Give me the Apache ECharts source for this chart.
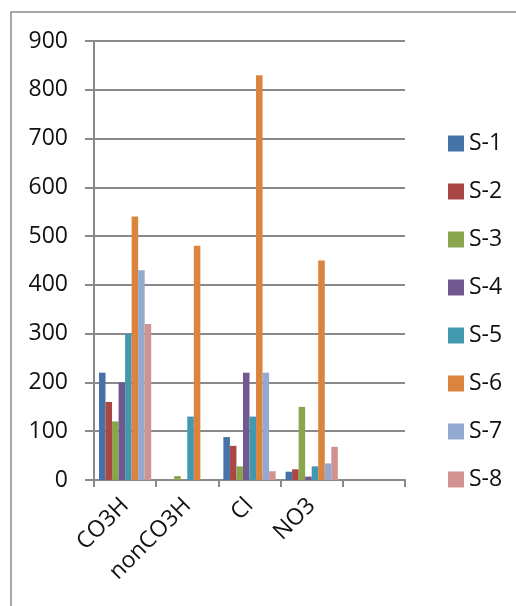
<!DOCTYPE html>
<html>
<head>
<meta charset="utf-8">
<script src="https://cdn.jsdelivr.net/npm/echarts@6/dist/echarts.min.js"></script>
<style>
  html, body { margin: 0; padding: 0; background: #fff; }
  #chart { width: 516px; height: 606px; }
</style>
</head>
<body>
<div id="chart"></div>
<script>
// Ion categories (the last slot is an empty category, as in the sheet)
const categories = ['CO3H', 'nonCO3H', 'Cl', 'NO3', ''];
const seriesNames = ['S-1', 'S-2', 'S-3', 'S-4', 'S-5', 'S-6', 'S-7', 'S-8'];

// Values per sample, one entry per category
const s1 = [220, 0, 88, 17, null];
const s2 = [160, 0, 70, 22, null];
const s3 = [120, 8, 28, 150, null];
const s4 = [200, 0, 220, 7, null];
const s5 = [300, 130, 130, 28, null];
const s6 = [540, 480, 830, 450, null];
const s7 = [430, 0, 220, 34, null];
const s8 = [320, 0, 18, 68, null];
const seriesValues = [s1, s2, s3, s4, s5, s6, s7, s8];

const yTicks = { min: 0, max: 900, interval: 100 };

const palette = ['#4572A7', '#AA4643', '#89A54E', '#71588F',
                 '#4198AF', '#DB843D', '#93A9CF', '#D19392'];

const fontFamily = '"Open Sans", "DejaVu Sans", sans-serif';
const axisGray = '#8a8a8a';

const chart = echarts.init(document.getElementById('chart'), null, { renderer: 'canvas' });

chart.setOption({
  animation: false,
  color: palette,
  textStyle: { fontFamily: fontFamily },
  graphic: [{
    type: 'rect',
    shape: { x: 11, y: 12, width: 530, height: 620 },
    style: { fill: 'none', stroke: axisGray, lineWidth: 1.5 },
    silent: true,
    z: -1
  }],
  grid: { left: 94, right: 111, top: 41, bottom: 126, containLabel: false },
  legend: {
    orient: 'vertical',
    left: 448,
    top: 132,
    padding: 0,
    itemWidth: 16,
    itemHeight: 16,
    itemGap: 25,
    icon: 'rect',
    data: seriesNames,
    textStyle: { fontFamily: fontFamily, fontSize: 23, color: '#111', lineHeight: 16 }
  },
  xAxis: {
    type: 'category',
    data: categories,
    axisLine: { lineStyle: { color: axisGray, width: 2 } },
    axisTick: { show: true, length: 7, alignWithLabel: false, lineStyle: { color: axisGray, width: 2 } },
    axisLabel: {
      interval: 0,
      rotate: 45,
      margin: 22,
      fontSize: 23,
      color: '#111',
      fontFamily: fontFamily
    }
  },
  yAxis: {
    type: 'value',
    min: yTicks.min,
    max: yTicks.max,
    interval: yTicks.interval,
    axisLine: { show: true, lineStyle: { color: axisGray, width: 2 } },
    axisTick: { show: true, inside: false, length: 9, lineStyle: { color: axisGray, width: 2 } },
    splitLine: { lineStyle: { color: axisGray, width: 2 } },
    axisLabel: { margin: 26, fontSize: 23, color: '#111', fontFamily: fontFamily }
  },
  series: seriesNames.map((name, i) => ({
    name: name,
    type: 'bar',
    data: seriesValues[i],
    barGap: '0%',
    barCategoryGap: '16%',
    itemStyle: { color: palette[i] }
  }))
});
</script>
</body>
</html>
